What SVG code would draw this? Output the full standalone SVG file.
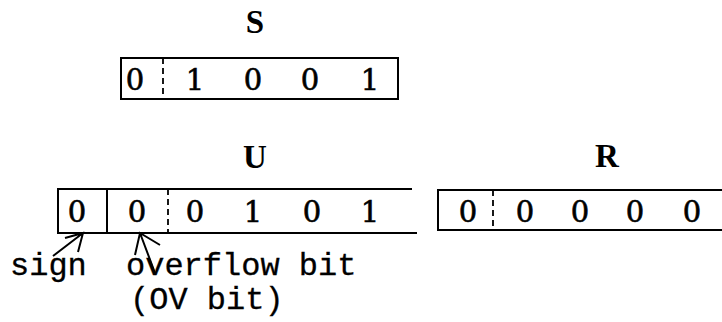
<svg xmlns="http://www.w3.org/2000/svg" width="722" height="322" viewBox="0 0 722 322">
<style>
.ln{stroke:#000;stroke-width:2;fill:none}
.dash{stroke:#000;stroke-width:1.8;stroke-dasharray:6 4;fill:none}
.dg{font-family:"DejaVu Serif","Liberation Serif",serif;font-size:29px;fill:#000;stroke:#000;stroke-width:0.6;text-anchor:middle}
.lbl{font-family:"Liberation Serif","Times New Roman",serif;font-weight:bold;font-size:33px;fill:#000;text-anchor:middle}
.tx{font-family:"Liberation Mono","Courier New",monospace;font-size:32px;fill:#000;stroke:#000;stroke-width:0.3}
</style>
<rect width="722" height="322" fill="#fff"/>
<g id="S">
<text class="lbl" x="255" y="33">S</text>
<rect class="ln" x="121" y="58" width="277" height="41"/>
<line class="dash" x1="163" y1="58" x2="163" y2="99"/>
<text class="dg" x="135" y="90">0</text>
<text class="dg" x="195" y="90">1</text>
<text class="dg" x="253" y="90">0</text>
<text class="dg" x="310" y="90">0</text>
<text class="dg" x="370" y="90">1</text>
</g>
<g id="U">
<text class="lbl" x="255" y="168">U</text>
<path class="ln" d="M412,189 H58 V233 H417"/>
<line class="ln" x1="107" y1="189" x2="107" y2="233"/>
<line class="dash" x1="168" y1="189" x2="168" y2="233"/>
<text class="dg" x="77" y="222">0</text>
<text class="dg" x="137" y="222">0</text>
<text class="dg" x="195" y="222">0</text>
<text class="dg" x="253" y="222">1</text>
<text class="dg" x="312" y="222">0</text>
<text class="dg" x="370" y="222">1</text>
</g>
<g id="R">
<text class="lbl" x="607" y="167">R</text>
<path class="ln" d="M722,190 H438 V230 H722"/>
<line class="dash" x1="493" y1="190" x2="493" y2="230"/>
<text class="dg" x="468" y="222">0</text>
<text class="dg" x="525" y="222">0</text>
<text class="dg" x="580" y="222">0</text>
<text class="dg" x="635" y="222">0</text>
<text class="dg" x="692" y="222">0</text>
</g>
<g id="connectors">
<path class="ln" d="M53,256 L83,233 M65,238 L83,233 L78,252"/>
<path class="ln" d="M155,273 L140,233 M135,255 L140,233 L160,245"/>
</g>
<g id="labels">
<text class="tx" x="10" y="275">sign</text>
<text class="tx" x="126" y="275">overflow bit</text>
<text class="tx" x="130" y="309">(OV bit)</text>
</g>
</svg>
